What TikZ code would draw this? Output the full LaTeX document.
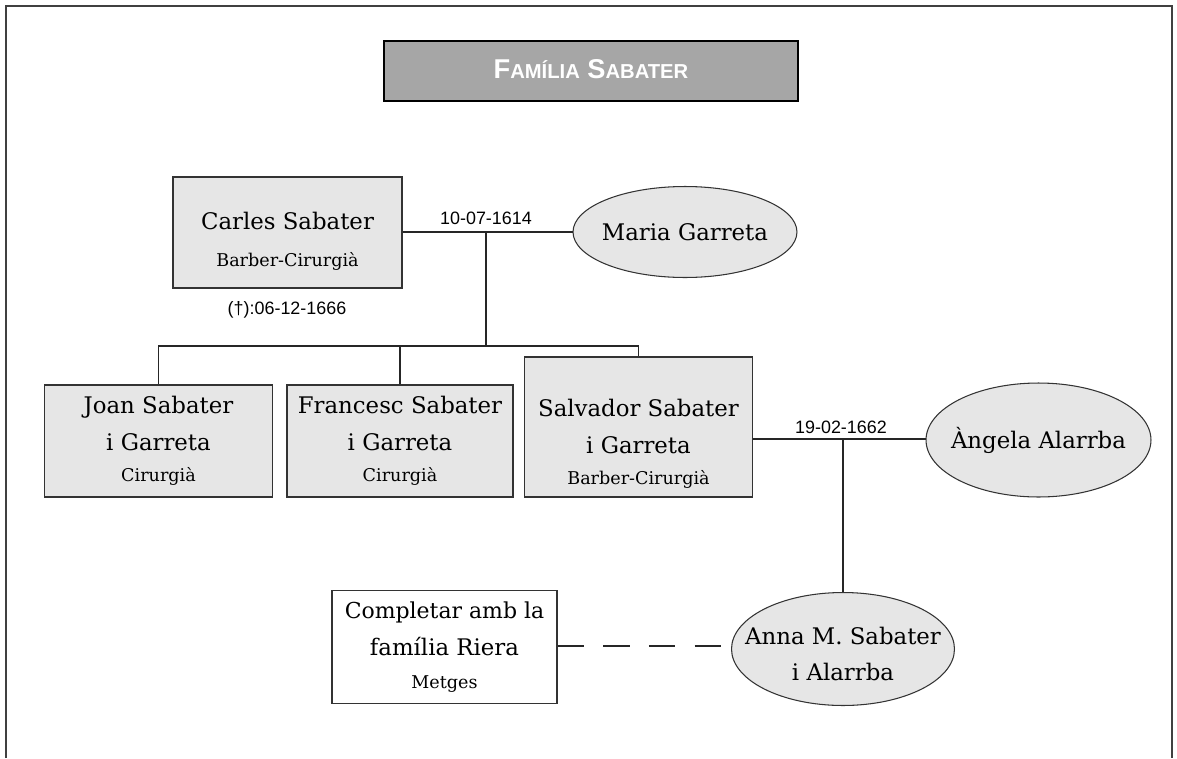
\documentclass[tikz,border=0pt]{standalone}
\usepackage{fontspec}
\setmainfont{DejaVu Serif}
\newfontfamily\datefont{Liberation Sans}
\newfontfamily\headfont{Liberation Sans}
\usepackage{tikz}
\usetikzlibrary{shapes.geometric}
\definecolor{boxgray}{HTML}{E6E6E6}
\definecolor{titlegray}{HTML}{A6A6A6}
\newcommand{\ofici}[1]{{\fontsize{10}{18}\selectfont #1}}
\newcommand{\ovaltext}[1]{\smash{\makebox[0pt]{\raisebox{-3.5pt}{\begin{tabular}{@{}c@{}}#1\end{tabular}}}}}

\begin{document}
\begin{tikzpicture}[x=0.02cm,y=-0.02cm,
  box/.style={draw=black!80,line width=0.6pt,fill=boxgray,minimum width=4.55cm,minimum height=2.24cm,align=center,inner sep=1pt,font=\fontsize{13}{21}\selectfont},
  oval/.style={ellipse,draw=black!80,line width=0.6pt,fill=boxgray,inner sep=0pt,font=\fontsize{13}{20.5}\selectfont},
  date/.style={font=\datefont\fontsize{10.2}{12}\selectfont},
  link/.style={line width=0.6pt,black!85}]
  \useasboundingbox (0,0) rectangle (1177,758);
  % marc
  \draw[line width=0.7pt,black!75] (6,758) -- (6,6) -- (1172,6) -- (1172,758);
  \node[draw=black,line width=1.6pt,fill=titlegray,minimum width=8.28cm,minimum height=1.2cm,text=white] (title) at (591,71)
    {\raisebox{2pt}{\headfont\bfseries\fontsize{15.5}{16}\selectfont F{\fontsize{11.5}{16}\selectfont AMÍLIA} S{\fontsize{11.5}{16}\selectfont ABATER}}};
  % primera generacio
  \node[box,minimum width=4.58cm,minimum height=2.22cm] (carles) at (287.5,232.5) {\rule{0pt}{20pt}Carles Sabater\\\ofici{Barber-Cirurgià}};
  \node[date] (mort) at (287,310) {(†):06-12-1666};
  \node[oval,minimum width=4.48cm,minimum height=1.82cm] (maria) at (685,232) {\ovaltext{Maria Garreta}};
  \node[date] (casament1) at (486,218) {10-07-1614};
  \coordinate (m1) at (486,232);
  \coordinate (bus) at (486,346);
  % fills
  \node[box] (joan) at (158.5,441) {Joan Sabater\\i Garreta\\[-3.5pt]\ofici{Cirurgià}};
  \node[box,minimum width=4.52cm] (francesc) at (400,441) {Francesc Sabater\\i Garreta\\[-3.5pt]\ofici{Cirurgià}};
  \node[box,minimum width=4.56cm,minimum height=2.8cm] (salvador) at (638.5,427) {\rule{0pt}{29pt}Salvador Sabater\\i Garreta\\[-3.5pt]\ofici{Barber-Cirurgià}};
  \node[oval,minimum width=4.5cm,minimum height=2.28cm] (angela) at (1038.5,440) {\ovaltext{Àngela Alarrba}};
  \node[date] (casament2) at (841,427) {19-02-1662};
  \coordinate (m2) at (843,439);
  \node[oval,minimum width=4.46cm,minimum height=2.26cm] (anna) at (843,649) {\ovaltext{\rule{0pt}{20pt}Anna M. Sabater\\i Alarrba}};
  \node[box,fill=white,minimum width=4.5cm,minimum height=2.26cm] (riera) at (444.5,647) {\fontsize{12.5}{20}\selectfont Completar amb la\\família Riera\\[-2pt]\ofici{Metges}};
  \draw[link] (carles.east |- maria.west) -- (maria.west);
  \draw[link] (m1) -- (bus);
  \draw[link] (joan.north) |- (bus) -| (salvador.north);
  \draw[link] (francesc.north) -- (francesc.north |- bus);
  \draw[link] (salvador.east |- m2) -- (angela.west |- m2);
  \draw[link] (m2) -- (anna.north);
  \draw[link,dash pattern=on 15pt off 11pt] (riera.east |- 0,646) -- (anna.west |- 0,646);
\end{tikzpicture}
\end{document}
